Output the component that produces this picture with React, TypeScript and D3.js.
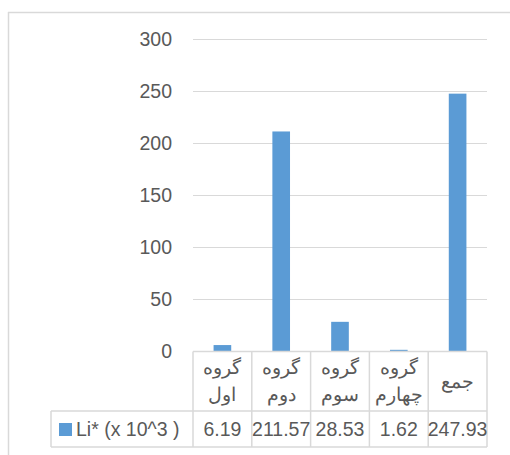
import * as d3 from 'd3';
import React from 'react';

// chart data
const categories = ['گروه اول', 'گروه دوم', 'گروه سوم', 'گروه چهارم', 'جمع'];
const headerLines = [['گروه', 'اول'], ['گروه', 'دوم'], ['گروه', 'سوم'], ['گروه', 'چهارم'], ['جمع']];
const values = [6.19, 211.57, 28.53, 1.62, 247.93];
const valueLabels = ['6.19', '211.57', '28.53', '1.62', '247.93'];
const yTicks = [0, 50, 100, 150, 200, 250, 300];
const seriesName = 'Li* (x 10^3 )';

const W = 510;
const H = 455;
const blue = '#5B9BD5';
const grid = '#D9D9D9';
const txt = '#595959';
const font = '"Liberation Sans", Arial, sans-serif';

export default function App() {
  const plot = { left: 193, right: 487, top: 39.5, bottom: 351.5 };
  const x = d3.scaleBand<string>().domain(categories).range([plot.left, plot.right]).padding(0);
  const y = d3.scaleLinear().domain([0, 300]).range([plot.bottom, plot.top]);
  const bw = x.bandwidth() * 0.3;

  const headBottom = 411;
  const rowBottom = 447;
  const legendLeft = 51;

  return (
    <svg width={W} height={H} style={{ position: 'absolute', left: 0, top: 0 }} fontFamily={font}>
      {/* outer frame */}
      <line x1={8} y1={12.5} x2={W} y2={12.5} stroke={grid} strokeWidth={1.5} />
      <line x1={8.5} y1={12} x2={8.5} y2={H} stroke={grid} strokeWidth={1.5} />

      {/* gridlines + y labels */}
      {yTicks.map(t => (
        <g key={t}>
          {t > 0 && <line x1={plot.left} x2={plot.right} y1={y(t)} y2={y(t)} stroke={grid} strokeWidth={1} />}
          <text x={172} y={y(t)} dy="0.35em" textAnchor="end" fontSize={19.5} fill={txt}>{t}</text>
        </g>
      ))}

      {/* bars */}
      {categories.map((c, i) => (
        <rect key={c} x={x(c)! + (x.bandwidth() - bw) / 2} y={y(values[i])}
          width={bw} height={y(0) - y(values[i])} fill={blue} />
      ))}

      {/* data table */}
      <line x1={plot.left} x2={plot.right} y1={plot.bottom} y2={plot.bottom} stroke={grid} strokeWidth={1.5} />
      <line x1={legendLeft} x2={plot.right} y1={headBottom} y2={headBottom} stroke={grid} strokeWidth={1.5} />
      <line x1={legendLeft} x2={plot.right} y1={rowBottom} y2={rowBottom} stroke={grid} strokeWidth={1.5} />
      <line x1={legendLeft} x2={legendLeft} y1={headBottom} y2={rowBottom} stroke={grid} strokeWidth={1.5} />
      {categories.map(c => (
        <line key={c} x1={x(c)!} x2={x(c)!} y1={plot.bottom} y2={rowBottom} stroke={grid} strokeWidth={1.5} />
      ))}
      <line x1={plot.right} x2={plot.right} y1={plot.bottom} y2={rowBottom} stroke={grid} strokeWidth={1.5} />

      {categories.map((c, i) => {
        const cx = x(c)! + x.bandwidth() / 2;
        const lines = headerLines[i];
        const mid = (plot.bottom + headBottom) / 2;
        return (
          <g key={c}>
            {lines.map((l, j) => (
              <text key={j} x={cx} y={lines.length === 1 ? mid : mid + (j - 0.5) * 27}
                dy="0.35em" textAnchor="middle" fontSize={19} fill={txt}>{l}</text>
            ))}
            <text x={cx} y={(headBottom + rowBottom) / 2} dy="0.35em" textAnchor="middle"
              fontSize={19.5} fill={txt}>{valueLabels[i]}</text>
          </g>
        );
      })}

      {/* legend key */}
      <rect x={59} y={423} width={13} height={13} fill={blue} />
      <text x={76} y={(headBottom + rowBottom) / 2} dy="0.35em" fontSize={19.5} fill={txt}>{seriesName}</text>
    </svg>
  );
}
